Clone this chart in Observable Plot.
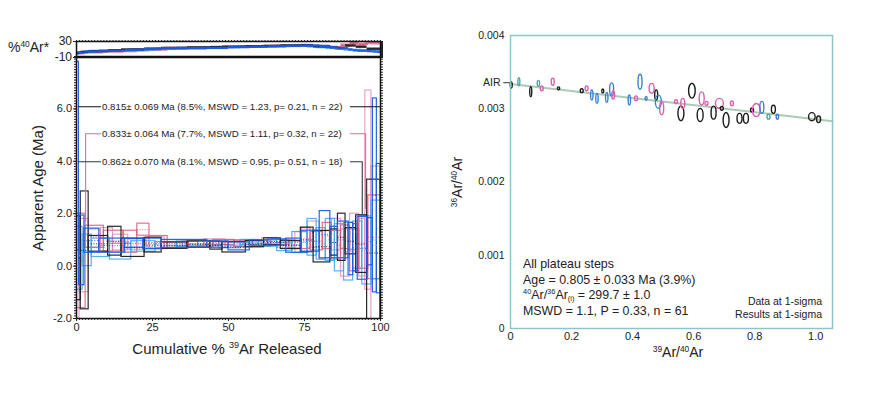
<!DOCTYPE html>
<html><head><meta charset="utf-8">
<script src="https://cdn.jsdelivr.net/npm/d3@7"></script>
<script src="https://cdn.jsdelivr.net/npm/@observablehq/plot@0.6"></script>
<style>
body{margin:0;background:#fff;}
#wrap{position:relative;width:872px;height:393px;overflow:hidden;font-family:"Liberation Sans",Arial,sans-serif;color:#222;}
#wrap svg{position:absolute;left:0;top:0;overflow:visible;}
.lab{position:absolute;white-space:nowrap;line-height:1;}
.lab sup{font-size:0.6em;vertical-align:0.6em;line-height:0;}
.lab sub{font-size:0.6em;vertical-align:-0.3em;line-height:0;}
</style></head><body><div id="wrap"></div>
<script>
// ---------- Age spectra (left panel) ----------
const samples = ["A", "B", "C", "D", "E"];
const drawOrder = ["E", "B", "D", "A", "C"];

const A_bounds = [0, 1.4, 4.0, 10.4, 14.8, 22.4, 28.0, 36.5, 44.0, 48.0, 55.7, 61.7, 67.2, 73.8, 78.0, 83.5, 86.0, 88.5, 92.0, 95.6, 100];
const A_age = [0.3, 0.6, 0.85, 0.95, 0.7, 0.8, 0.78, 0.82, 0.78, 0.72, 0.84, 0.93, 0.8, 1.0, 0.74, 0.9, 1.1, 0.95, 0.84, 0.5];
const A_err = [1.6, 2.25, 0.3, 0.55, 0.35, 0.28, 0.12, 0.12, 0.15, 0.2, 0.12, 0.13, 0.15, 0.47, 0.6, 0.5, 0.9, 0.5, 1.1, 2.8];
const A_ar40 = [2, 4, 6, 8, 10, 12, 14, 15, 16, 17, 18, 19, 20, 21, 18, 16, 14, 20, 17, 12];

const B_bounds = [0, 3.0, 9.0, 15.5, 20.0, 24.0, 30.0, 37, 45, 52, 58, 64, 70, 74, 77, 81, 84, 87, 90, 93, 96, 100];
const B_age = [0.2, 1.12, 0.95, 0.93, 1.39, 0.9, 0.8, 0.84, 0.9, 0.85, 0.86, 0.9, 0.82, 1.05, 0.95, 1.15, 0.8, 1.1, 0.6, 0.9, 1.1];
const B_err = [1.8, 0.42, 0.4, 0.42, 0.23, 0.25, 0.12, 0.12, 0.1, 0.13, 0.12, 0.1, 0.15, 0.4, 0.35, 0.5, 0.55, 0.45, 0.8, 1.0, 1.6];
const B_ar40 = [1, 3, 5, 6, 8, 10, 13, 15, 16, 17, 18, 19, 20, 20, 19, 17, 15, 22, 26, 24, 28];

const C_bounds = [0, 0.8, 2.6, 7.5, 16, 22, 28, 43, 50, 57, 63, 69, 74, 80, 83.5, 86, 89.5, 91, 92.5, 95.7, 97.5, 98.8, 100];
const C_age = [4.2, 0.6, 0.97, 0.78, 0.87, 0.85, 0.85, 0.82, 0.75, 0.88, 0.9, 0.78, 0.95, 1.2, 0.9, 1.0, 0.65, 0.7, 0.68, 0.93, 2.7, 1.43];
const C_err = [3.6, 1.33, 0.46, 0.27, 0.17, 0.2, 0.15, 0.12, 0.15, 0.1, 0.12, 0.27, 0.4, 0.9, 0.6, 0.7, 1.0, 0.9, 1.2, 0.9, 3.7, 2.47];
const C_ar40 = [0, 2, 5, 7, 9, 11, 13, 14, 16, 17, 18, 19, 20, 19, 16, 13, 10, 8, 7, 6, 5, 4];

const D_bounds = [0, 2, 5, 11, 18, 26, 33, 40, 47, 54, 60, 66, 71, 76, 79, 82, 85, 88, 91, 94, 97, 100];
const D_age = [0.3, 0.6, 0.7, 0.55, 0.75, 0.8, 0.84, 0.86, 0.8, 0.9, 0.86, 0.72, 0.9, 1.1, 0.85, 1.0, 0.7, 0.55, 0.8, 0.6, 1.0];
const D_err = [1.2, 0.6, 0.35, 0.3, 0.2, 0.12, 0.1, 0.1, 0.12, 0.1, 0.12, 0.15, 0.4, 0.7, 0.6, 0.8, 0.9, 1.1, 0.9, 1.3, 1.5];
const D_ar40 = [1, 4, 6, 8, 10, 12, 14, 15, 16, 17, 18, 19, 20, 18, 16, 14, 12, 10, 9, 8, 7];

const E_bounds = [0, 1, 4, 8, 12, 17, 23, 29, 35, 42, 49, 55, 61, 66, 72, 76, 80, 84, 87, 90, 93, 95, 97, 100];
const E_age = [0.0, 0.4, 1.05, 1.0, 0.9, 0.82, 0.9, 0.78, 0.86, 0.92, 0.88, 0.82, 0.95, 0.85, 0.9, 1.2, 0.8, 1.2, 0.5, 1.3, 0.7, 2.9, 0.8];
const E_err = [2.0, 1.4, 0.35, 0.45, 0.3, 0.2, 0.2, 0.12, 0.1, 0.1, 0.1, 0.1, 0.12, 0.15, 0.4, 0.5, 0.55, 0.6, 0.9, 0.7, 1.1, 3.8, 3.0];
const E_ar40 = [0, 3, 5, 6, 8, 10, 12, 14, 15, 16, 17, 18, 19, 20, 21, 19, 17, 15, 18, 22, 20, 26, 25];

const ageTicks = [-2, 0, 2, 4, 6];
const pctTicks = [0, 25, 50, 75, 100];
const arStarTicks = [30, -10];

// plateau brackets
const plateauLabels = [
  "0.815\u00b1 0.069 Ma (8.5%, MSWD = 1.23, p= 0.21, n = 22)",
  "0.833\u00b1 0.064 Ma (7.7%, MSWD = 1.11, p= 0.32, n = 22)",
  "0.862\u00b1 0.070 Ma (8.1%, MSWD = 0.95, p= 0.51, n = 18)"
];
const plateauLevel = [6.08, 5.05, 3.98];
const plateauStart = [0.6, 3.0, 0.6];
const plateauEnd = [100, 95.1, 94.0];
const plateauDropStart = [6.08, 1.7, 3.98];
const plateauDropEnd = [6.08, 2.2, 2.0];

// ---------- Inverse isochron (right panel) ----------
const isoX = [0.004,0.029,0.068,0.093,0.104,0.140,0.159,0.235,0.251,0.268,0.285,0.304,0.317,0.333,0.338,0.391,0.413,0.426,0.446,0.464,0.479,0.486,0.497,0.544,0.560,0.566,0.596,0.628,0.623,0.644,0.667,0.686,0.694,0.708,0.727,0.752,0.773,0.793,0.807,0.825,0.847,0.863,0.876,0.989,1.011];
const isoY = [0.003317,0.003363,0.003226,0.003340,0.003272,0.003363,0.003272,0.003240,0.003272,0.003181,0.003135,0.003235,0.003149,0.003258,0.003181,0.003113,0.003135,0.003363,0.003135,0.003272,0.003181,0.003090,0.002999,0.003090,0.002931,0.003067,0.003240,0.003135,0.002908,0.003067,0.002940,0.003067,0.002999,0.002840,0.003067,0.002862,0.002862,0.002976,0.002976,0.003012,0.002885,0.002985,0.002885,0.002885,0.002849];
const isoSX = [0.0033,0.0033,0.0033,0.0039,0.0049,0.0049,0.0039,0.0049,0.0049,0.0039,0.0039,0.0033,0.0039,0.0066,0.0049,0.0039,0.0049,0.0066,0.0033,0.0082,0.0049,0.0098,0.0066,0.0049,0.0098,0.0066,0.0108,0.0082,0.0098,0.0049,0.0082,0.0131,0.0049,0.0098,0.0049,0.0082,0.0082,0.0049,0.0131,0.0066,0.0049,0.0066,0.0039,0.0108,0.0066];
const isoSY = [0.000041,0.000055,0.000068,0.000041,0.000034,0.000048,0.000020,0.000027,0.000034,0.000068,0.000068,0.000027,0.000068,0.000089,0.000055,0.000068,0.000034,0.000102,0.000027,0.000068,0.000068,0.000089,0.000089,0.000027,0.000102,0.000068,0.000102,0.000089,0.000089,0.000027,0.000089,0.000068,0.000027,0.000102,0.000034,0.000068,0.000068,0.000027,0.000089,0.000082,0.000034,0.000055,0.000034,0.000055,0.000045];
const isoGroup = ["k","t","k","t","p","p","k","k","p","b","b","k","b","b","p","b","p","b","b","p","k","b","p","p","k","p","k","p","k","p","k","p","k","k","p","k","k","k","p","b","t","k","b","k","k"];
const isoGroups = ["k", "p", "b", "t"];
const atmRatio = 299.7;        // (40Ar/36Ar)i
const isoSlope = -0.00048;      // regression slope
const isoXTicks = [0, 0.2, 0.4, 0.6, 0.8, 1.0];
const isoYTicks = [0, 0.001, 0.002, 0.003, 0.004];
const airValue = 1 / 295.5 * 0.9915;

// ---------- styles ----------
const sampleColors = ["#1c1c1c", "#e24d6a", "#1c5ce6", "#33a6ef", "#e079b5"];
const sampleOpacity = {A: 0.95, B: 0.8, C: 0.95, D: 0.85, E: 0.7};
const isoColors = ["#1c1c1c", "#e05fb0", "#3a7fd0", "#49a8a0"];
const font = "Liberation Sans, Arial, sans-serif";

function toSteps(sample, bounds, age, err, ar40) {
  return age.map((a, i) => ({sample, x1: bounds[i], x2: bounds[i + 1], age: a, err: err[i], ar40: ar40[i]}));
}
const bySample = {
  A: toSteps("A", A_bounds, A_age, A_err, A_ar40),
  B: toSteps("B", B_bounds, B_age, B_err, B_ar40),
  C: toSteps("C", C_bounds, C_age, C_err, C_ar40),
  D: toSteps("D", D_bounds, D_age, D_err, D_ar40),
  E: toSteps("E", E_bounds, E_age, E_err, E_ar40)
};
const steps = drawOrder.flatMap(s => bySample[s]);

const wrap = document.getElementById("wrap");
const base = {width: 872, height: 393, style: {background: "transparent", fontFamily: font, overflow: "visible"}};
const colorScale = {domain: samples, range: sampleColors};

// strip (%40Ar*)
const strip = Plot.plot({
  ...base,
  marginLeft: 76, marginRight: 492, marginTop: 41, marginBottom: 336,
  x: {domain: [0, 100]},
  y: {domain: [-10, 30]},
  color: colorScale,
  marks: [
    Plot.ruleY(steps, {x1: "x1", x2: "x2", y: "ar40", stroke: "sample", strokeWidth: 2.4,
      strokeOpacity: d => sampleOpacity[d.sample], clip: true}),
    Plot.frame({stroke: "#111", strokeWidth: 1.5}),
    Plot.axisY(arStarTicks, {tickSize: 3, tickPadding: 1.5, fontSize: 12, color: "#222", label: null, tickFormat: d => String(d)}),
    Plot.axisX(d3.range(0, 101, 1), {anchor: "top", tickSize: 2, tickFormat: () => "", label: null, color: "#222"}),
    Plot.axisY(d3.range(-10, 31, 2.5), {anchor: "right", tickSize: 2, tickFormat: () => "", label: null, color: "#222"})
  ]
});
wrap.appendChild(strip);

// main age spectrum
const bracketPaths = plateauLabels.flatMap((lab, i) => [
  {id: i + "a", pts: [[plateauStart[i], plateauDropStart[i]], [plateauStart[i], plateauLevel[i]], [7.9, plateauLevel[i]]], i},
  {id: i + "b", pts: [[90.1, plateauLevel[i]], [plateauEnd[i], plateauLevel[i]], [plateauEnd[i], plateauDropEnd[i]]], i}
]).flatMap(b => b.pts.map(p => ({id: b.id, i: b.i, x: p[0], y: p[1]})));
const bracketColors = ["#111", "#e06a9a", "#2b3b3b"];

const main = Plot.plot({
  ...base,
  marginLeft: 76, marginRight: 492, marginTop: 56, marginBottom: 75,
  x: {domain: [0, 100]},
  y: {domain: [-2, 8]},
  color: colorScale,
  marks: [
    Plot.rect(steps, {x1: "x1", x2: "x2", y1: d => d.age - d.err, y2: d => d.age + d.err,
      stroke: "sample", fill: "none", strokeWidth: 1.2, strokeOpacity: d => sampleOpacity[d.sample], clip: true}),
    Plot.ruleY(steps, {x1: "x1", x2: "x2", y: "age", stroke: "sample", strokeWidth: 1,
      strokeDasharray: "1,1.6", strokeOpacity: d => sampleOpacity[d.sample], clip: true}),
    Plot.line(bracketPaths, {x: "x", y: "y", z: "id", stroke: d => bracketColors[d.i], strokeWidth: 1.1}),
    Plot.text(plateauLabels, {x: 8.4, y: (d, i) => plateauLevel[i], text: d => d, textAnchor: "start",
      fontSize: 9.7, fill: "#222"}),
    Plot.frame({stroke: "#111", strokeWidth: 1.5}),
    Plot.axisY(ageTicks, {tickSize: 3, tickPadding: 1.5, fontSize: 11, color: "#222", label: null, tickFormat: d => d.toFixed(1)}),
    Plot.axisX(pctTicks, {tickSize: 3, tickPadding: 2, fontSize: 11, color: "#222", label: null, tickFormat: d => String(d)}),
    Plot.axisX(d3.range(0, 101, 1), {tickSize: 2, tickFormat: () => "", label: null, color: "#222"}),
    Plot.axisY(d3.range(-2, 8.01, 0.1), {tickSize: 2, tickFormat: () => "", label: null, color: "#222"}),
    Plot.axisY(d3.range(-2, 8.01, 0.1), {anchor: "right", tickSize: 2, tickFormat: () => "", label: null, color: "#222"})
  ]
});
wrap.appendChild(main);

// isochron
const iso = isoX.map((x, i) => ({x, y: isoY[i], sx: isoSX[i], sy: isoSY[i], g: isoGroup[i]}));
const isoLine = [0, 1.055].map(x => ({x, y: 1 / atmRatio + isoSlope * x}));
const right = Plot.plot({
  ...base,
  marginLeft: 510, marginRight: 40, marginTop: 35, marginBottom: 65,
  x: {domain: [0, 1.055]},
  y: {domain: [0, 0.004]},
  color: {domain: isoGroups, range: isoColors},
  marks: [
    Plot.line(isoLine, {x: "x", y: "y", stroke: "#a9cbb6", strokeWidth: 2}),
    Plot.rect(iso, {x1: d => d.x - d.sx, x2: d => d.x + d.sx, y1: d => d.y - d.sy, y2: d => d.y + d.sy,
      rx: 60, ry: 60, fill: "none", stroke: "g", strokeWidth: 1.4}),
    Plot.ruleY([airValue], {x1: -0.022, x2: 0.006, stroke: "#333", strokeWidth: 1}),
    Plot.text(["AIR"], {x: 0, y: [airValue], dx: -10, textAnchor: "end", fontSize: 10.5, fill: "#222"}),
    Plot.frame({stroke: "#8ac6c6", strokeWidth: 1.5}),
    Plot.axisY(isoYTicks, {tickSize: 0, tickPadding: 6, fontSize: 10.5, color: "#222", label: null,
      tickFormat: d => d === 0 ? "0" : d.toFixed(3)}),
    Plot.axisX(isoXTicks, {tickSize: 0, tickPadding: 4, fontSize: 11, color: "#222", label: null,
      tickFormat: d => d === 0 ? "0" : d.toFixed(1)})
  ]
});
wrap.appendChild(right);

// ---------- HTML text ----------
function label(html, x, y, {size = 12, anchor = "middle", rotate = 0, color = "#222"} = {}) {
  const el = document.createElement("div");
  el.className = "lab";
  el.innerHTML = html;
  el.style.fontSize = size + "px";
  el.style.color = color;
  el.style.left = x + "px";
  el.style.top = y + "px";
  const tx = anchor === "start" ? "0" : anchor === "end" ? "-100%" : "-50%";
  el.style.transform = `translate(${tx},-50%)` + (rotate ? ` rotate(${rotate}deg)` : "");
  wrap.appendChild(el);
}
label("%<sup>40</sup>Ar*", 8, 47, {size: 14, anchor: "start"});
label("Apparent Age (Ma)", 37, 188, {size: 15, rotate: -90});
label("Cumulative % <sup>39</sup>Ar Released", 227, 348, {size: 15});
label("<sup>36</sup>Ar/<sup>40</sup>Ar", 457, 182, {size: 14, rotate: -90});
label("<sup>39</sup>Ar/<sup>40</sup>Ar", 678, 352, {size: 14});
label("All plateau steps", 523, 264, {size: 12.4, anchor: "start"});
label("Age = 0.805 \u00b1 0.033 Ma (3.9%)", 523, 280, {size: 12.4, anchor: "start"});
label("<sup>40</sup>Ar/<sup>36</sup>Ar<sub>(i)</sub> = 299.7 \u00b1 1.0", 523, 295, {size: 12.4, anchor: "start"});
label("MSWD = 1.1, P = 0.33, n = 61", 523, 311, {size: 12.4, anchor: "start"});
label("Data at 1-sigma", 822, 301, {size: 10.5, anchor: "end"});
label("Results at 1-sigma", 822, 314, {size: 10.5, anchor: "end"});
</script></body></html>
